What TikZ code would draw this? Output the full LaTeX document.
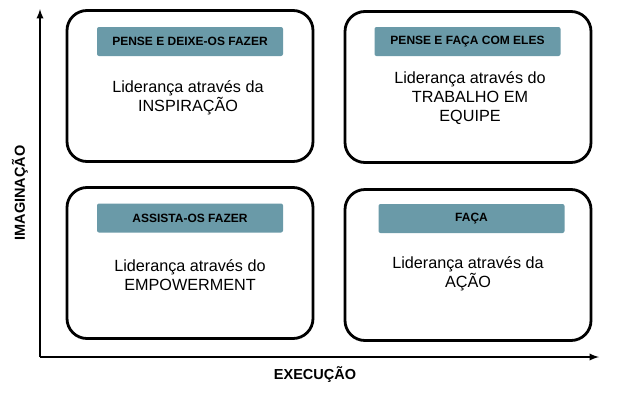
\documentclass[tikz,border=0pt]{standalone}
\usepackage{fontspec}
\setmainfont{Liberation Sans}
\definecolor{faixa}{HTML}{6A9AA8}
\begin{document}
\begin{tikzpicture}[x=1pt, y=-1pt,
		quadro/.style={draw, line width=2.8pt, rounded corners=20pt, minimum width=246pt, minimum height=151pt},
		faixa/.style={fill=faixa, rounded corners=2pt, minimum width=186pt, minimum height=29pt, font=\fontsize{12}{13}\selectfont\bfseries},
		texto/.style={align=center, font=\fontsize{16.2}{19}\selectfont},
		eixo/.style={font=\fontsize{14.5}{16}\selectfont\bfseries}]
		\useasboundingbox (0,0) rectangle (636,402);
		% quadrantes
		\node (q1) [quadro] at (190,86) {};
		\node (q2) [quadro] at (468,87) {};
		\node (q3) [quadro] at (190,263) {};
		\node (q4) [quadro] at (468,265) {};
		
		\node (f1) [faixa] at (190,41.5) {PENSE E DEIXE-OS FAZER};
		\node (f2) [faixa] at (467.5,41.5) {PENSE E FAÇA COM ELES};
		\node (f3) [faixa] at (190,218) {ASSISTA-OS FAZER};
		\node (f4) [faixa] at (471.5,218.5) {FAÇA};
		
		\node (t1) [texto] at (188,97.5) {Liderança através da\\INSPIRAÇÃO};
		\node (t2) [texto] at (470,98) {Liderança através do\\TRABALHO EM\\EQUIPE};
		\node (t3) [texto] at (190,275) {Liderança através do\\EMPOWERMENT};
		\node (t4) [texto] at (468,273.5) {Liderança através da\\AÇÃO};
		
		% eixos
		\coordinate (origem) at (40,357);
		\coordinate (topo) at (40,9);
		\coordinate (fim) at (599,357);
		\draw[line width=2.2pt, -latex] (origem) -- (topo);
		\draw[line width=2.2pt, -latex] (origem) -- (fim);
		\node (imag) [eixo, rotate=90] at (20,193) {IMAGINAÇÃO};
		\node (exec) [eixo] at (315,375) {EXECUÇÃO};
	\end{tikzpicture}
\end{document}
